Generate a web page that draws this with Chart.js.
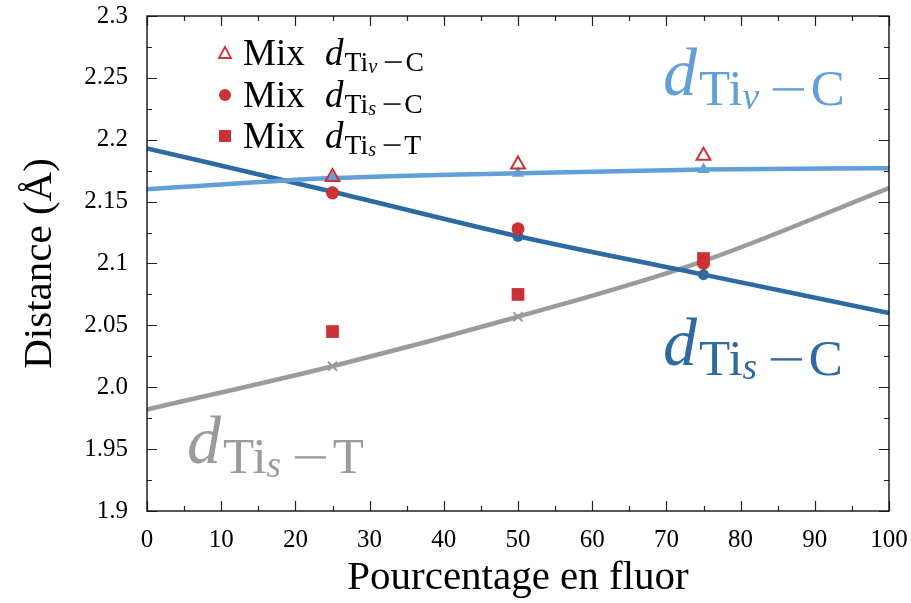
<!DOCTYPE html>
<html>
<head>
<meta charset="utf-8">
<script src="https://cdn.jsdelivr.net/npm/chart.js@4/dist/chart.umd.min.js"></script>
<style>
  html, body { margin: 0; padding: 0; background: #fff; }
  #wrap { width: 911px; height: 603px; }
</style>
</head>
<body>
<div id="wrap"><canvas id="chart" width="911" height="603"></canvas></div>
<script>
// fitted curves
const lineX = [0, 25, 50, 75, 100];
const tivC = [2.160, 2.169, 2.173, 2.176, 2.177];
const tisC = [2.193, 2.158, 2.122, 2.091, 2.060];
const tisT = [1.982, 2.017, 2.057, 2.102, 2.161];

// mixed configurations
const mixX = [25, 50, 75];
const mixTivC = [2.170, 2.180, 2.187];
const mixTisC = [2.157, 2.128, 2.100];
const mixTisT = [2.045, 2.075, 2.104];

const yTickValues = [1.9, 1.95, 2.0, 2.05, 2.1, 2.15, 2.2, 2.25, 2.3];
const yTickLabels = ['1.9', '1.95', '2.0', '2.05', '2.1', '2.15', '2.2', '2.25', '2.3'];

const LIGHT = '#629fd8';
const DARK = '#2d69a3';
const GREY = '#9b9b9b';
const RED = '#cb3234';
const FONT = '"Liberation Serif", "DejaVu Serif", serif';

function pts(xs, ys) {
  return xs.map((x, i) => ({ x: x, y: ys[i] }));
}

// d_{Ti_sub - tail}
function drawDist(ctx, x, y, s, color, sub, tail) {
  ctx.fillStyle = color;
  ctx.textBaseline = 'alphabetic';
  ctx.textAlign = 'left';
  ctx.font = 'italic ' + s + 'px ' + FONT;
  ctx.fillText('d', x, y);
  x += ctx.measureText('d').width + 0.03 * s;
  ctx.font = (0.75 * s) + 'px ' + FONT;
  ctx.fillText('Ti', x, y + 0.15 * s);
  x += ctx.measureText('Ti').width;
  ctx.font = 'italic ' + (0.55 * s) + 'px ' + FONT;
  ctx.fillText(sub, x, y + 0.21 * s);
  x += ctx.measureText(sub).width + 0.2 * s;
  ctx.font = (0.75 * s) + 'px ' + FONT;
  // minus sign as a wide bar, like the TeX one
  const mw = 0.46 * s;
  ctx.fillRect(x, y + 0.15 * s - 0.25 * s, mw, Math.max(1.5, 0.035 * s));
  x += mw + 0.1 * s;
  ctx.fillText(tail, x, y + 0.15 * s);
}

const frame = {
  id: 'frame',
  afterDraw(chart) {
    const ctx = chart.ctx;
    const a = chart.chartArea;
    const xs = chart.scales.x, ys = chart.scales.y;
    ctx.save();
    ctx.strokeStyle = '#222';
    ctx.lineWidth = 1.2;
    ctx.beginPath();
    for (let v = xs.min; v <= xs.max + 0.001; v += 5) {
      const p = Math.round(xs.getPixelForValue(v)) + 0.5;
      const len = (Math.round(v) % 10 === 0) ? 10 : 5;
      ctx.moveTo(p, a.bottom); ctx.lineTo(p, a.bottom - len);
      ctx.moveTo(p, a.top); ctx.lineTo(p, a.top + len);
    }
    for (let i = 0; i <= 16; i++) {
      const v = ys.min + i * 0.025;
      const p = Math.round(ys.getPixelForValue(v)) + 0.5;
      const len = (i % 2 === 0) ? 10 : 5;
      ctx.moveTo(a.left, p); ctx.lineTo(a.left + len, p);
      ctx.moveTo(a.right, p); ctx.lineTo(a.right - len, p);
    }
    ctx.stroke();
    ctx.lineWidth = 1.4;
    ctx.strokeStyle = '#111';
    ctx.strokeRect(a.left, a.top, a.right - a.left, a.bottom - a.top);

    // curve labels
    drawDist(ctx, 663, 95, 68, LIGHT, 'v', 'C');
    drawDist(ctx, 663, 365, 68, DARK, 's', 'C');
    drawDist(ctx, 187, 463, 68, GREY, 's', 'T');

    // legend
    const rows = [
      { y: 53, style: 'triangle', sub: 'v', tail: 'C' },
      { y: 95, style: 'circle', sub: 's', tail: 'C' },
      { y: 136, style: 'rect', sub: 's', tail: 'T' }
    ];
    rows.forEach(r => {
      ctx.fillStyle = RED;
      ctx.strokeStyle = RED;
      ctx.lineWidth = 1.8;
      if (r.style === 'triangle') {
        ctx.beginPath();
        ctx.moveTo(225, r.y - 6);
        ctx.lineTo(231, r.y + 5);
        ctx.lineTo(219, r.y + 5);
        ctx.closePath();
        ctx.stroke();
      } else if (r.style === 'circle') {
        ctx.beginPath();
        ctx.arc(225, r.y, 6, 0, Math.PI * 2);
        ctx.fill();
      } else {
        ctx.fillRect(219, r.y - 6, 12, 12);
      }
      ctx.font = '37px ' + FONT;
      ctx.fillStyle = '#000';
      ctx.textAlign = 'left';
      ctx.textBaseline = 'alphabetic';
      ctx.fillText('Mix', 243, r.y + 12);
      drawDist(ctx, 325, r.y + 12, 37, '#000', r.sub, r.tail);
    });
    ctx.restore();
  }
};

const lineDs = (label, ys, color, style, r) => ({
  label: label,
  data: pts(lineX, ys),
  showLine: true,
  borderColor: color,
  backgroundColor: color,
  borderWidth: 4.5,
  pointStyle: style,
  pointRadius: [0, r, r, r, 0],
  pointBorderWidth: style === 'crossRot' ? 2 : 0,
  cubicInterpolationMode: 'monotone'
});

new Chart(document.getElementById('chart').getContext('2d'), {
  type: 'scatter',
  data: {
    datasets: [
      { label: 'Mix Tiv-C', data: pts(mixX, mixTivC), pointStyle: 'triangle', pointRadius: 8,
        borderColor: RED, backgroundColor: 'rgba(0,0,0,0)', pointBorderWidth: 2 },
      { label: 'Mix Tis-C', data: pts(mixX, mixTisC), pointStyle: 'circle', pointRadius: 6.5,
        borderColor: RED, backgroundColor: RED, pointBorderWidth: 0 },
      { label: 'Mix Tis-T', data: pts(mixX, mixTisT), pointStyle: 'rect', pointRadius: 9,
        borderColor: RED, backgroundColor: RED, pointBorderWidth: 0 },
      lineDs('Tiv-C', tivC, LIGHT, 'triangle', 7),
      lineDs('Tis-C', tisC, DARK, 'circle', 5.5),
      lineDs('Tis-T', tisT, GREY, 'crossRot', 6.5)
    ]
  },
  options: {
    responsive: false,
    animation: false,
    devicePixelRatio: 1,
    layout: { padding: { top: 16, right: 22, left: 0, bottom: 0 } },
    plugins: {
      legend: { display: false },
      tooltip: { enabled: false }
    },
    scales: {
      x: {
        type: 'linear',
        min: 0,
        max: 100,
        grid: { display: false, drawTicks: false },
        border: { display: false },
        ticks: { stepSize: 10, padding: 14, color: '#000', font: { family: FONT, size: 25 } },
        title: { display: true, text: 'Pourcentage en fluor', color: '#000',
                 font: { family: FONT, size: 41 }, padding: { top: 0, bottom: 0 } },
        afterFit(s) { s.height = 92; s.paddingLeft = 0; s.paddingRight = 0; }
      },
      y: {
        type: 'linear',
        min: 1.9,
        max: 2.3,
        grid: { display: false, drawTicks: false },
        border: { display: false },
        ticks: {
          stepSize: 0.05, padding: 19, color: '#000', font: { family: FONT, size: 25 },
          callback(v) {
            const i = yTickValues.findIndex(t => Math.abs(t - v) < 1e-6);
            return i >= 0 ? yTickLabels[i] : '';
          }
        },
        title: { display: true, text: 'Distance (Å)', color: '#000',
                 font: { family: FONT, size: 41 }, padding: { top: 16, bottom: 0 } },
        afterFit(s) { s.width = 147; s.paddingTop = 0; s.paddingBottom = 0; }
      }
    }
  },
  plugins: [frame]
});
</script>
</body>
</html>
